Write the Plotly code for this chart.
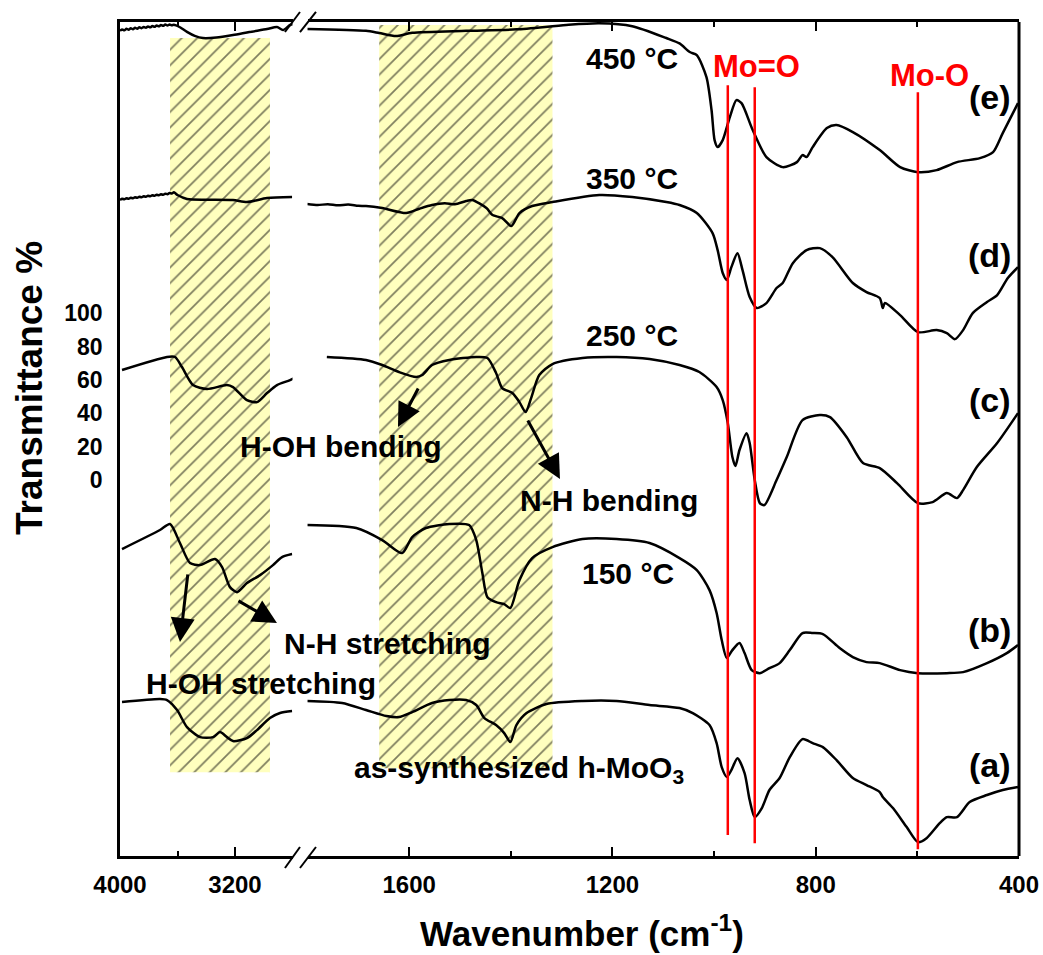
import plotly.graph_objects as go

# ---------------- data (wavenumber in cm-1, offset transmittance in %) ----------------
# high-wavenumber segment (4000-2800) and low-wavenumber segment (1800-400) of each spectrum

E_HI_WN = [4000, 3985, 3970, 3955, 3940, 3925, 3910, 3895, 3880, 3865, 3850, 3835, 3820, 3805,
           3790, 3775, 3760, 3745, 3730, 3715, 3700, 3685, 3670, 3655, 3640, 3625, 3610, 3580,
           3534, 3480, 3423, 3330, 3214, 3100, 2977, 2908, 2866, 2817, 2790]
E_HI_T = [269.0, 269.8, 269.3, 270.2, 269.7, 270.5, 270.0, 270.8, 270.3, 271.1, 270.6, 271.3,
          270.9, 271.6, 271.1, 271.9, 271.4, 272.2, 271.7, 272.5, 272.0, 272.8, 272.2, 272.8,
          272.3, 272.7, 272.3, 271.0, 268.4, 266.0, 264.7, 265.0, 266.5, 268.3, 270.1, 271.3,
          269.5, 272.5, 273.0]
E_LO_WN = [1801, 1685, 1659, 1626, 1594, 1488, 1389, 1291, 1226, 1161, 1094, 1068, 1048, 1034,
           1015, 1005, 999, 993, 983, 969, 956, 946, 924, 897, 865, 837, 826, 818, 806, 778,
           759, 727, 674, 634, 599, 562, 522, 477, 451, 432, 402]
E_LO_T = [270.1, 269.0, 267.7, 265.9, 267.8, 269.0, 269.9, 272.5, 273.5, 271.8, 264.7, 261.5,
          256.3, 254.5, 241.3, 221.6, 203.6, 199.4, 203.6, 217.4, 227.5, 225.7, 209.6, 193.4,
          187.4, 190.4, 194.6, 193.4, 199.4, 210.8, 212.6, 208.4, 197.6, 187.4, 184.4, 185.6,
          190.4, 192.8, 196.4, 207.8, 225.7]

D_HI_WN = [4000, 3985, 3970, 3955, 3940, 3925, 3910, 3895, 3880, 3865, 3850, 3835, 3820, 3805,
           3790, 3775, 3760, 3745, 3730, 3715, 3700, 3685, 3670, 3655, 3640, 3625, 3600, 3534,
           3400, 3214, 3117, 2977, 2803]
D_HI_T = [167.7, 168.5, 168.1, 168.8, 168.4, 169.1, 168.7, 169.4, 169.0, 169.7, 169.3, 170.0,
          169.6, 170.3, 169.9, 170.6, 170.2, 170.9, 170.5, 171.2, 170.8, 171.5, 171.2, 171.9,
          171.6, 172.3, 170.7, 168.3, 167.9, 167.7, 166.5, 168.9, 169.5]
D_LO_WN = [1801, 1780, 1760, 1740, 1720, 1700, 1685, 1653, 1606, 1580, 1555, 1530, 1510, 1488,
           1476, 1448, 1436, 1417, 1399, 1383, 1358, 1318, 1226, 1161, 1094, 1068, 1034, 1003,
           993, 983, 975, 966, 954, 944, 930, 916, 897, 877, 865, 845, 818, 792, 767, 727, 700,
           674, 668, 664, 634, 599, 562, 542, 526, 510, 491, 463, 443, 422, 402]
D_LO_T = [165.3, 164.7, 165.2, 164.5, 165.0, 164.2, 164.1, 162.9, 159.9, 162.5, 164.7, 165.8,
          165.2, 167.1, 167.7, 162.9, 158.7, 156.9, 152.1, 159.9, 164.1, 166.5, 170.7, 169.5,
          166.5, 164.7, 159.9, 147.9, 137.7, 124.0, 119.8, 127.5, 135.9, 125.7, 109.6, 103.0,
          106.0, 115.0, 118.0, 129.9, 137.7, 138.9, 133.5, 118.0, 112.6, 109.0, 103.0, 106.0,
          98.8, 88.6, 89.8, 88.0, 84.4, 89.8, 100.0, 106.6, 110.8, 121.0, 127.5]

C_HI_WN = [3986, 3673, 3617, 3569, 3492, 3395, 3256, 3214, 3117, 3047, 2977, 2908, 2817, 2748]
C_HI_T = [65.9, 73.7, 73.7, 67.7, 56.9, 54.5, 56.9, 55.7, 47.9, 46.7, 52.1, 56.9, 59.9, 62.9]
C_LO_WN = [1762, 1685, 1653, 1620, 1586, 1574, 1555, 1521, 1468, 1446, 1429, 1417, 1397, 1383,
           1371, 1360, 1344, 1318, 1259, 1192, 1127, 1068, 1029, 995, 983, 973, 964, 958, 950,
           936, 930, 920, 910, 901, 877, 857, 826, 792, 772, 739, 707, 674, 640, 599, 570, 542,
           522, 510, 483, 443, 402]
C_LO_T = [73.7, 71.9, 68.9, 64.7, 61.7, 62.9, 68.9, 71.9, 73.7, 73.1, 64.1, 55.1, 52.1, 46.7,
          40.7, 49.1, 62.9, 69.5, 73.1, 73.7, 72.5, 68.9, 64.7, 55.7, 47.9, 34.1, 13.8, 8.4,
          18.0, 28.1, 22.2, 0.0, -13.8, -15.0, 0.0, 13.8, 35.9, 38.9, 37.7, 25.7, 10.2, 7.2,
          -1.8, -13.8, -13.2, -7.8, -10.8, -6.0, 7.8, 22.2, 40.1]

B_HI_WN = [3986, 3722, 3652, 3583, 3513, 3443, 3339, 3290, 3235, 3186, 3117, 3026, 2936, 2873, 2803]
B_HI_T = [-41.3, -29.9, -26.3, -37.7, -49.7, -50.9, -47.3, -52.1, -64.1, -67.1, -61.7, -56.9,
          -50.9, -46.1, -44.3]
B_LO_WN = [1801, 1704, 1653, 1614, 1594, 1567, 1521, 1482, 1468, 1456, 1446, 1429, 1413, 1401,
           1383, 1358, 1318, 1259, 1192, 1127, 1068, 1034, 1009, 995, 985, 975, 964, 950, 940,
           926, 910, 891, 871, 851, 826, 806, 786, 753, 727, 700, 674, 634, 599, 542, 510, 463,
           424, 402]
B_LO_T = [-26.9, -28.7, -35.9, -43.7, -34.1, -28.7, -26.3, -26.9, -35.9, -55.7, -70.1, -73.1,
          -74.3, -76.6, -59.9, -46.7, -40.1, -35.3, -35.3, -37.7, -46.7, -53.9, -65.9, -79.6,
          -95.8, -106.6, -101.8, -97.6, -103.6, -113.8, -115.6, -112.6, -109.6, -101.8, -91.6,
          -91.6, -92.2, -100.6, -106.0, -109.0, -109.6, -113.8, -115.6, -115.6, -115.0, -109.6,
          -103.6, -98.8]

A_HI_WN = [3986, 3722, 3673, 3603, 3534, 3443, 3353, 3304, 3256, 3214, 3117, 3047, 2957, 2887, 2803]
A_HI_T = [-132.9, -131.1, -131.7, -137.7, -147.9, -153.9, -153.9, -150.9, -153.9, -156.3,
          -154.5, -149.7, -142.5, -139.5, -138.3]
A_LO_WN = [1801, 1732, 1685, 1645, 1620, 1594, 1555, 1521, 1488, 1468, 1452, 1429, 1413, 1401,
           1389, 1369, 1330, 1259, 1192, 1127, 1068, 1042, 1009, 995, 985, 975, 966, 954, 940,
           930, 920, 906, 891, 871, 851, 826, 806, 786, 759, 727, 700, 674, 668, 648, 621, 599,
           582, 556, 542, 522, 497, 463, 432, 402]
A_LO_T = [-132.3, -133.5, -137.7, -141.3, -141.9, -138.9, -133.5, -131.7, -131.7, -134.7,
          -142.5, -146.7, -151.5, -156.9, -146.7, -139.5, -134.1, -132.3, -132.3, -134.7,
          -136.5, -139.5, -146.7, -157.5, -171.9, -177.8, -173.7, -166.5, -175.5, -191.6,
          -201.8, -196.4, -185.6, -178.4, -165.9, -155.1, -157.5, -159.9, -167.7, -178.4,
          -182.6, -186.8, -189.8, -196.4, -207.8, -216.8, -214.4, -205.4, -201.8, -201.8,
          -192.8, -188.6, -185.6, -183.8]

# reference band positions (red lines): wavenumber, top and bottom of line
MARK_WN = [973, 920, 599]
MARK_TOP = [236.5, 235.3, 232.3]
MARK_BOTTOM = [-212.6, -217.4, -221.0]

# hatched absorption regions: (wn start, wn end, top, bottom)
BAND_HI = [3652, 2957, 264.7, -174.9]
BAND_LO = [1659, 1318, 272.5, -172.5]

X_HI_TICKS = [4000, 3200]
X_HI_MINOR = [3600]
X_LO_TICKS = [1600, 1200, 800, 400]
X_LO_MINOR = [1400, 1000, 600]
Y_TICKS = [0, 20, 40, 60, 80, 100]

FONT = "Liberation Sans, Arial, sans-serif"

fig = go.Figure()

# hatched bands
for band, xa in ((BAND_HI, "x"), (BAND_LO, "x2")):
    x0, x1, top, bot = band
    fig.add_trace(go.Scatter(
        x=[x0, x1, x1, x0, x0], y=[top, top, bot, bot, top], xaxis=xa, yaxis="y",
        mode="lines", line=dict(width=0), fill="toself", fillcolor="#ffffbe",
        fillpattern=dict(shape="/", bgcolor="#ffffbe", fgcolor="black", size=11, solidity=0.16),
        hoverinfo="skip", showlegend=False))

segments = [
    (E_HI_WN, E_HI_T, E_LO_WN, E_LO_T),
    (D_HI_WN, D_HI_T, D_LO_WN, D_LO_T),
    (C_HI_WN, C_HI_T, C_LO_WN, C_LO_T),
    (B_HI_WN, B_HI_T, B_LO_WN, B_LO_T),
    (A_HI_WN, A_HI_T, A_LO_WN, A_LO_T),
]
for hx, hy, lx, ly in segments:
    fig.add_trace(go.Scatter(x=hx, y=hy, xaxis="x", yaxis="y", mode="lines",
                             line=dict(color="black", width=2.5, shape="spline", smoothing=0.7),
                             showlegend=False))
    fig.add_trace(go.Scatter(x=lx, y=ly, xaxis="x2", yaxis="y", mode="lines",
                             line=dict(color="black", width=2.5, shape="spline", smoothing=0.7),
                             showlegend=False))

for wn, t, b in zip(MARK_WN, MARK_TOP, MARK_BOTTOM):
    fig.add_trace(go.Scatter(x=[wn, wn], y=[t, b], xaxis="x2", yaxis="y", mode="lines",
                             line=dict(color="#ff0000", width=2.5), showlegend=False))

tickfont = dict(family=FONT, size=24, color="black", weight="bold")
common_x = dict(ticks="inside", ticklen=9, tickwidth=2, tickcolor="black",
                showline=True, linewidth=2.5, linecolor="black", mirror="ticks",
                showgrid=False, zeroline=False, tickfont=tickfont, anchor="y",
                ticklabelstandoff=5, automargin=False)

fig.update_layout(
    width=1043, height=955,
    margin=dict(l=120, r=24, t=22, b=99, autoexpand=False),
    paper_bgcolor="white", plot_bgcolor="white", showlegend=False,
    xaxis=dict(domain=[0, 0.1919], range=[4000, 2800], tickmode="array", tickvals=X_HI_TICKS,
               minor=dict(tickmode="array", tickvals=X_HI_MINOR, ticks="inside", ticklen=5,
                          tickwidth=2, tickcolor="black"), **common_x),
    xaxis2=dict(domain=[0.2086, 1], range=[1800, 400], tickmode="array", tickvals=X_LO_TICKS,
                minor=dict(tickmode="array", tickvals=X_LO_MINOR, ticks="inside", ticklen=5,
                           tickwidth=2, tickcolor="black"), **common_x),
    yaxis=dict(range=[-225.1, 274.3], tickmode="array", tickvals=Y_TICKS, ticks="",
               showline=True, linewidth=2.5, linecolor="black", showgrid=False, zeroline=False,
               tickfont=dict(family=FONT, size=23, color="black", weight="bold"),
               anchor="x", ticklabelstandoff=10, automargin=False),
)

shapes = [dict(type="line", xref="paper", yref="paper", x0=1, x1=1, y0=0, y1=1,
               line=dict(color="black", width=3))]
# axis break marks
for y0, y1 in ((-0.0144, 0.0108), (0.988, 1.012)):
    for xa, xb in ((0.1835, 0.2002), (0.2002, 0.2180)):
        shapes.append(dict(type="line", xref="paper", yref="paper", x0=xa, x1=xb, y0=y0, y1=y1,
                           line=dict(color="black", width=2)))
fig.update_layout(shapes=shapes)

def txt(text, x, y, size=30, color="black", **kw):
    fig.add_annotation(text=text, x=x, y=y, xref="paper", yref="paper", showarrow=False,
                       font=dict(family=FONT, size=size, color=color, weight="bold"),
                       xanchor=kw.pop("xanchor", "center"), yanchor=kw.pop("yanchor", "middle"),
                       **kw)

txt("450 °C", 0.5692, 0.9568)
txt("350 °C", 0.5692, 0.8129)
txt("250 °C", 0.5692, 0.6247)
txt("150 °C", 0.5651, 0.3393)
txt("as-synthesized h-MoO<sub>3</sub>", 0.2581, 0.1040, xanchor="left")
txt("Mo=O", 0.7075, 0.9472, size=31, color="#ff0000")
txt("Mo-O", 0.8999, 0.9353, size=31, color="#ff0000")
for lab, yy in (("(e)", 0.9101), ("(d)", 0.7206), ("(c)", 0.5468), ("(b)", 0.2710), ("(a)", 0.1091)):
    txt(lab, 0.9677, yy, size=34)
txt("H-OH bending", 0.2458, 0.4916)
txt("N-H bending", 0.5439, 0.4257)
txt("N-H stretching", 0.2981, 0.2542)
txt("H-OH stretching", 0.1568, 0.2074)
txt("Transmittance %", -0.1001, 0.5612, size=37, textangle=-90)
txt("Wavenumber (cm<sup>-1</sup>)", 0.5139, -0.0905, size=35)

# arrows: tip position in paper coords, tail offset in pixels
for x, y, ax, ay in ((0.3092, 0.5144, 21, -40), (0.4894, 0.4520, -33, -60),
                     (0.0667, 0.2566, 8, -69), (0.1746, 0.2794, -40, -23)):
    fig.add_annotation(text="", x=x, y=y, xref="paper", yref="paper", showarrow=True,
                       ax=ax, ay=ay, arrowhead=2, arrowsize=1.6, arrowwidth=3,
                       arrowcolor="black", standoff=0)

fig.write_html("out.html")
